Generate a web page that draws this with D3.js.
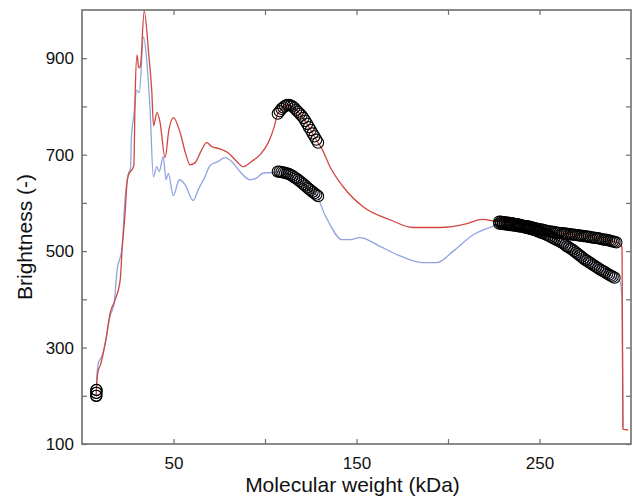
<!DOCTYPE html>
<html lang="en">
<head>
    <meta charset="UTF-8">
    <title>Brightness vs molecular weight</title>
    <script src="https://d3js.org/d3.v7.min.js"></script>
    <style>
        body { margin: 0; background: #fff; }
        .line { fill: none; stroke-width: 1.3px; }
        .tick text { font-family: "Liberation Sans", Arial, sans-serif; font-size: 17px; fill: #111; }
        .axis-label { font-family: "Liberation Sans", Arial, sans-serif; font-size: 21px; fill: #111; }
        .mark { fill: none; stroke: #000; stroke-width: 1.1px; }
    </style>
</head>
<body>
    <svg width="633" height="499"></svg>

    <script>
        // red trace (molecular weight kDa, brightness)
        var redX = [7.8, 7.85, 7.9, 8.2, 9.1, 10.0, 12.6, 15.5, 18.2, 20.9, 21.9, 23.5, 24.6, 25.5, 27.3, 28.3,
            29.1, 30.1, 31.0, 31.9, 34.0, 36.4, 38.1, 39.1, 41.0, 42.6, 45.4, 47.5, 50.0, 53.6, 56.8, 59.0,
            61.7, 65.4, 68.1, 70.9, 75.4, 79.8, 84.5, 88.1, 92.7, 97.3, 101.8, 104.9,
            107, 108, 109, 110, 111, 112, 113, 114, 115, 116, 117, 118, 119, 120, 121, 122, 123, 124, 125, 126, 127, 128, 129,
            131.1, 135.5, 142.6, 153.6, 168.3, 180.9, 195.6, 210.4, 218.6,
            228, 229, 230, 231, 232, 233, 234, 235, 236, 237, 238, 239, 240, 241, 242, 243, 244, 245, 246, 247,
            248, 249, 250, 251, 252, 253, 254, 255, 256, 257, 258, 259, 260, 261, 262, 263, 264, 265, 266, 267,
            268, 269, 270, 271, 272, 273, 274, 275, 276, 277, 278, 279, 280, 281, 282, 283, 284, 285, 286, 287,
            288, 289, 290, 291, 292,
            293.4, 295.1, 295.6, 298.4];
        var redY = [200, 206, 212, 234, 255, 263, 307, 373, 400, 441, 503, 576, 642, 659, 669, 677,
            834, 907, 880, 884, 998, 911, 834, 760, 787, 768, 694, 752, 777, 746, 700, 679,
            683, 710, 725, 717, 712, 704, 686, 675, 686, 700, 725, 756,
            785, 790, 795, 798, 801, 803, 803, 802, 800, 797, 793, 789, 785, 781, 776, 770, 764, 757, 751, 744, 738, 731, 725,
            712, 675, 634, 592, 565, 549, 549, 557, 566,
            561, 561, 560, 560, 559, 559, 558, 558, 557, 556, 556, 555, 554, 553, 552, 552, 551, 550, 549, 548,
            547, 546, 545, 545, 544, 543, 542, 541, 541, 540, 540, 539, 538, 538, 537, 537, 536, 536, 535, 535,
            534, 534, 533, 533, 532, 532, 531, 531, 530, 530, 529, 528, 528, 527, 527, 526, 525, 524, 524, 523,
            522, 521, 520, 519, 518,
            516, 508, 131, 129];

        // blue trace
        var blueX = [7.8, 7.85, 7.9, 8.2, 9.1, 10.9, 13.1, 15.3, 17.5, 19.1, 21.9, 23.5, 25.1, 26.5, 27.0, 28.4,
            29.9, 31.3, 33.6, 35.5, 37.2, 39.0, 40.8, 42.2, 44.4, 45.9, 47.2, 49.9, 53.2, 56.3, 60.7, 63.6,
            67.2, 69.9, 74.5, 78.1, 81.8, 86.3, 91.8, 95.5, 99.1, 104.5,
            107, 108, 109, 110, 111, 112, 113, 114, 115, 116, 117, 118, 119, 120, 121, 122, 123, 124, 125, 126, 127, 128, 129,
            130.1, 135.5, 141.9, 146.4, 151.9, 162.8, 173.8, 186.5, 193.8, 202.9, 213.8, 224.8,
            228, 229, 230, 231, 232, 233, 234, 235, 236, 237, 238, 239, 240, 241, 242, 243, 244, 245, 246, 247,
            248, 249, 250, 251, 252, 253, 254, 255, 256, 257, 258, 259, 260, 261, 262, 263, 264, 265, 266, 267,
            268, 269, 270, 271, 272, 273, 274, 275, 276, 277, 278, 279, 280, 281, 282, 283, 284, 285, 286, 287,
            288, 289, 290, 291,
            294.0, 295.1, 295.6];
        var blueY = [200, 206, 212, 245, 270, 282, 317, 365, 390, 458, 508, 607, 657, 673, 737, 783,
            834, 828, 944, 890, 793, 654, 675, 665, 696, 648, 661, 615, 648, 638, 605, 628,
            654, 677, 686, 694, 686, 665, 648, 652, 662, 663,
            665, 665, 664, 663, 662, 661, 660, 658, 656, 653, 651, 648, 645, 642, 639, 636, 632, 629, 626, 623, 620, 617, 614,
            600, 555, 524, 524, 528, 510, 490, 476, 476, 500, 534, 552,
            557, 557, 556, 556, 555, 555, 554, 554, 553, 553, 552, 551, 551, 550, 549, 548, 547, 546, 545, 544,
            543, 541, 540, 538, 537, 535, 534, 532, 530, 528, 526, 524, 522, 520, 518, 516, 513, 510, 508, 505,
            503, 500, 497, 494, 491, 488, 485, 482, 480, 477, 475, 472, 470, 467, 465, 462, 460, 458, 456, 453,
            451, 449, 447, 445,
            437, 400, 135];

        // x ranges (kDa) whose points are marked with circles
        var markRanges = [[7, 8], [107, 129], [228, 292]];

        var xTicks = [50, 100, 150, 200, 250];
        var xLabels = [50, 150, 250];
        var yTicks = [100, 200, 300, 400, 500, 600, 700, 800, 900];
        var yLabels = [100, 300, 500, 700, 900];

        var margin = { top: 10, right: 2, bottom: 55, left: 82 },
            width = 633 - margin.left - margin.right,
            height = 499 - margin.top - margin.bottom;

        var svg = d3.select("svg")
            .append("g")
            .attr("transform", "translate(" + margin.left + "," + margin.top + ")");

        var x = d3.scaleLinear().domain([0, 300]).range([0, width]);
        var y = d3.scaleLinear().domain([100, 1000]).range([height, 0]);

        var line = d3.line()
            .curve(d3.curveMonotoneX)
            .x(function(d) { return x(d[0]); })
            .y(function(d) { return y(d[1]); });

        var series = [
            { name: "blue", color: "#8fa4e0", pts: d3.zip(blueX, blueY) },
            { name: "red", color: "#d0473f", pts: d3.zip(redX, redY) }
        ];

        series.forEach(function(s) {
            svg.append("path")
                .datum(s.pts)
                .attr("class", "line")
                .attr("d", line)
                .style("stroke", s.color);
        });

        function marked(d) {
            return markRanges.some(function(r) { return d[0] >= r[0] && d[0] <= r[1]; });
        }

        series.forEach(function(s) {
            svg.append("g")
                .selectAll("circle")
                .data(s.pts.filter(marked))
                .enter()
                .append("circle")
                .attr("class", "mark")
                .attr("cx", function(d) { return x(d[0]); })
                .attr("cy", function(d) { return y(d[1]); })
                .attr("r", 5.6);
        });

        // axes: MATLAB-style box with inward ticks on all sides
        function fmtX(d) { return xLabels.indexOf(d) >= 0 ? d : ""; }
        function fmtY(d) { return yLabels.indexOf(d) >= 0 ? d : ""; }

        var axes = [
            svg.append("g").attr("transform", "translate(0," + height + ")")
                .call(d3.axisBottom(x).tickValues(xTicks).tickSize(-5).tickPadding(13).tickFormat(fmtX)),
            svg.append("g")
                .call(d3.axisTop(x).tickValues(xTicks).tickSize(-5).tickFormat("")),
            svg.append("g")
                .call(d3.axisLeft(y).tickValues(yTicks).tickSize(-5).tickPadding(8).tickFormat(fmtY)),
            svg.append("g").attr("transform", "translate(" + width + ",0)")
                .call(d3.axisRight(y).tickValues(yTicks).tickSize(-5).tickFormat(""))
        ];
        axes.forEach(function(a) {
            a.select(".domain").remove();
            a.selectAll(".tick line").attr("stroke", "#6e6e6e").attr("stroke-width", 1.2);
        });

        svg.append("rect")
            .attr("width", width)
            .attr("height", height)
            .attr("fill", "none")
            .attr("stroke", "#6e6e6e")
            .attr("stroke-width", 1.6);

        svg.append("text")
            .attr("class", "axis-label")
            .attr("x", width / 2 - 4)
            .attr("y", height + 48)
            .attr("text-anchor", "middle")
            .text("Molecular weight (kDa)");

        svg.append("text")
            .attr("class", "axis-label")
            .attr("transform", "rotate(-90)")
            .attr("x", -(height / 2 + 10))
            .attr("y", -50)
            .attr("text-anchor", "middle")
            .text("Brightness (-)");
    </script>
</body>
</html>
